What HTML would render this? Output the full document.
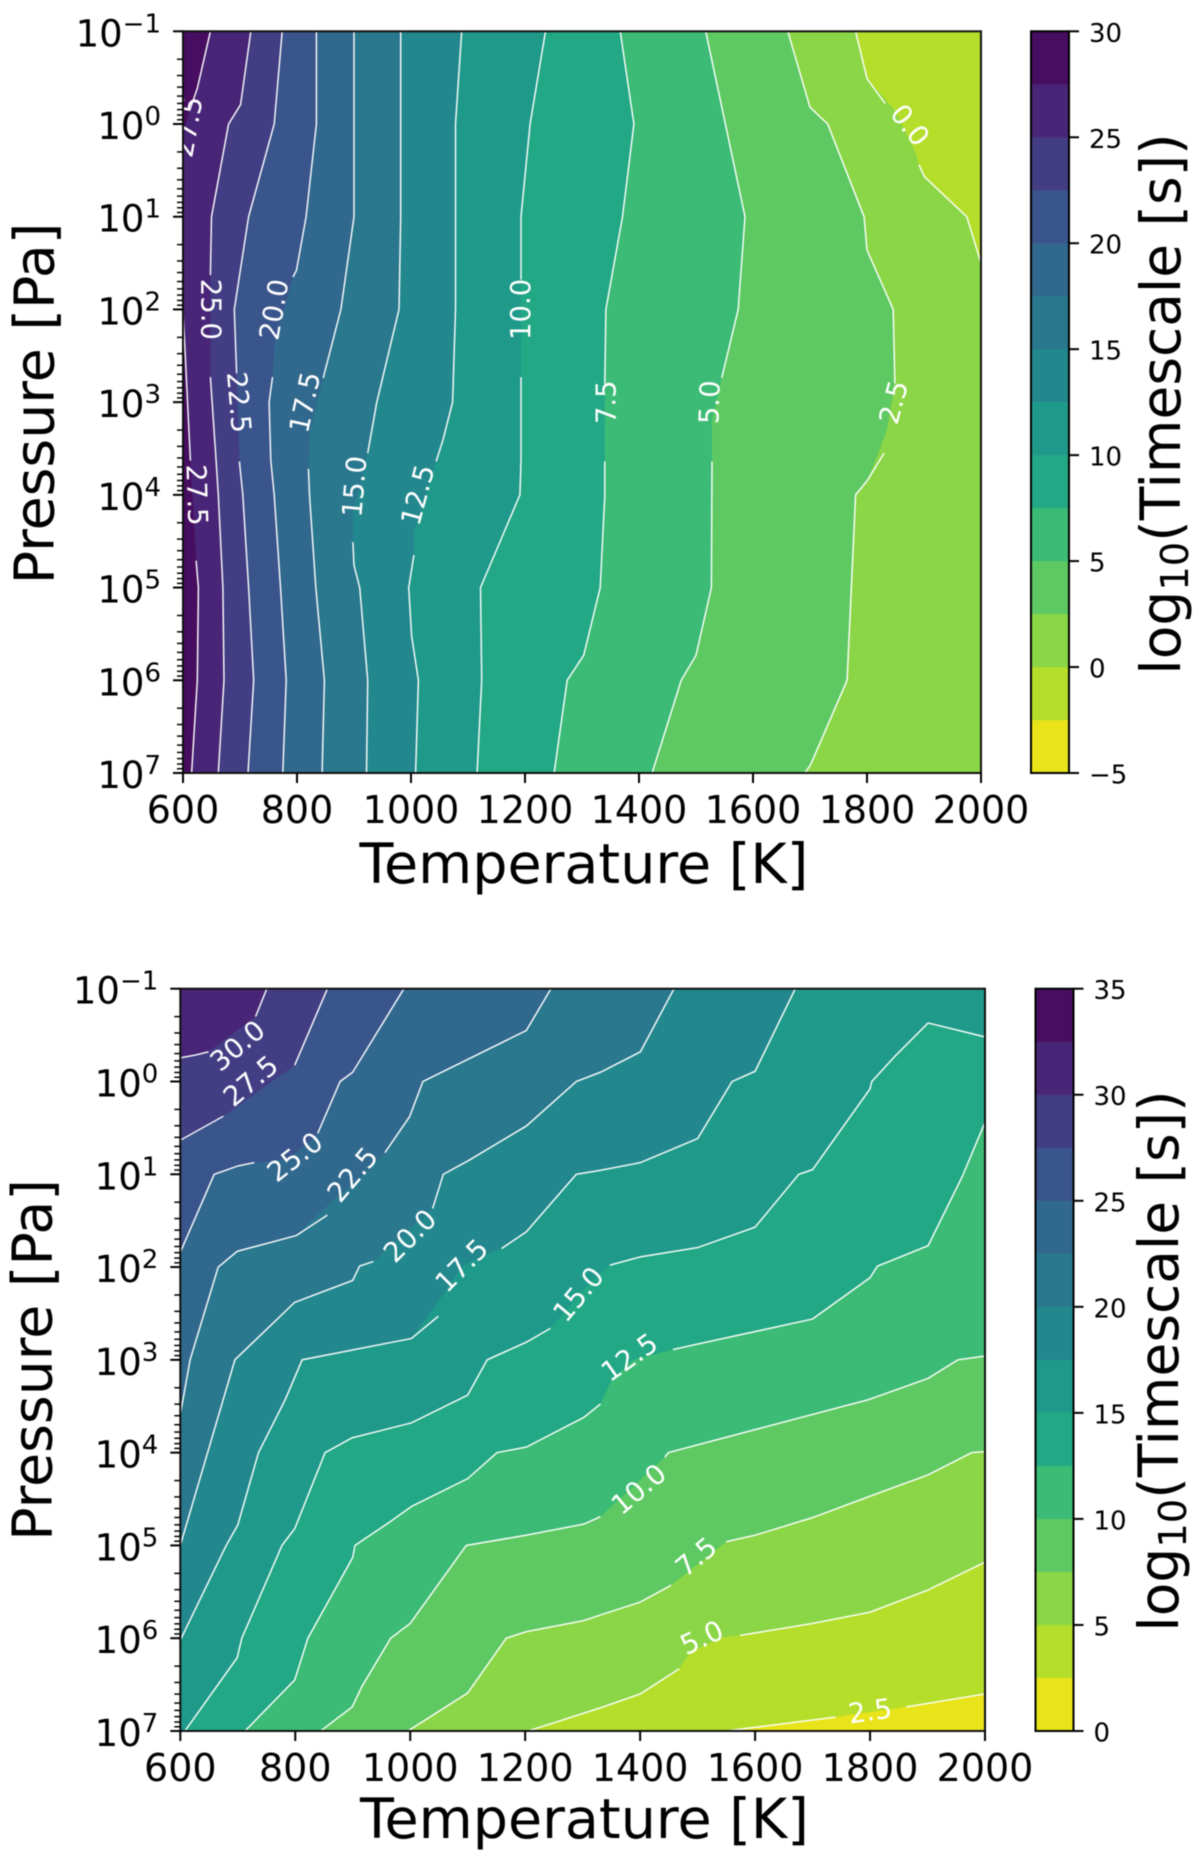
<!DOCTYPE html>
<html lang="en">
<head>
<meta charset="utf-8">
<title>Timescale contour maps</title>
<style>
html,body{margin:0;padding:0;background:#fff;}
svg{display:block;font-family:"DejaVu Sans","Liberation Sans",sans-serif;filter:blur(0.4px);}
</style>
</head>
<body>
<svg id="figure" xmlns="http://www.w3.org/2000/svg" width="1200" height="1860" viewBox="0 0 1200 1860">
  <rect x="0" y="0" width="1200" height="1860" fill="#fff"/>
  <defs>
    <clipPath id="clip-top"><rect x="183" y="31.3" width="798" height="741.7"/></clipPath>
    <clipPath id="clip-bottom"><rect x="180.3" y="988.7" width="804.7" height="742.3"/></clipPath>
  </defs>
  <g id="panel-top"></g>
  <g id="panel-bottom"></g>
  <text x="584" y="883" font-size="55.5" text-anchor="middle">Temperature [K]</text>
  <text transform="translate(53.5,403.5) rotate(-90)" font-size="55.3" text-anchor="middle">Pressure [Pa]</text>
  <text transform="translate(1180,404) rotate(-90)" font-size="55" text-anchor="middle">log<tspan font-size="38.5" dy="8">10</tspan><tspan dy="-8">(Timescale [s])</tspan></text>
  <text x="584.5" y="1838" font-size="55.5" text-anchor="middle">Temperature [K]</text>
  <text transform="translate(51.5,1360) rotate(-90)" font-size="55.3" text-anchor="middle">Pressure [Pa]</text>
  <text transform="translate(1178,1361) rotate(-90)" font-size="55" text-anchor="middle">log<tspan font-size="38.5" dy="8">10</tspan><tspan dy="-8">(Timescale [s])</tspan></text>
</svg>
<script>
// Shared axis values
const temperatureTicks = [600, 800, 1000, 1200, 1400, 1600, 1800, 2000];
const pressureExponents = [-1, 0, 1, 2, 3, 4, 5, 6, 7];
const viridisBands = ['#e8e419','#b5de2b','#8bd646','#5ec962','#3bbb75','#22a884','#1f9a8a','#23888e','#2a788e','#31688e','#3a548c','#433d84','#482576','#470d60'];

// Top panel: contour levels. Each vertex is [temperature K, log10 pressure, flag]
// flag 1 = gap in the stroke before this vertex, flag 2 = stroke only, flag 3 = gap and stroke only
const topLevels = [27.5, 25, 22.5, 20, 17.5, 15, 12.5, 10, 7.5, 5, 2.5, 0];
const topLines = [
  [[615,7],[625,6],[627,5],[623,4.71],[613,3.63,1],[600,2],[600,0.1,1],[612,-0.15,1],[625,-0.385],[648,-1]],
  [[662,7],[672,6],[670,5],[662,4],[658,3.63],[648,2.73],[648,1.63,1],[650,1],[680,0],[701,-0.21],[719,-1]],
  [[714,7],[724,6],[715,5],[705,4],[699,3.64],[694,2.69,1],[690,2],[715,1],[760,0],[774,-1]],
  [[775,7],[781,6],[771,5],[760,4],[754,3.63],[751,3],[757,2.73],[760,2.37,1],[793,1.65,1],[799,1.58],[816,1],[834,0],[834,-1]],
  [[844,7],[848,6],[833,5],[822,4],[820,3.72],[823,3.3,1],[846,2.74,1],[877,2],[900,1],[900,-1]],
  [[922,7],[924,6],[910,5],[900,4.76],[898,4.51],[898,4.2,1],[924,3.55,1],[940,3],[979,2],[982,1],[982,-1]],
  [[1008,7],[1013,6],[1001,5.52],[996,5],[1005,4.65],[1005,4.4,1],[1018,4.18,1],[1044,3.64,1],[1056,3.41],[1073,3],[1078,2],[1078,1],[1078,0],[1089,-1]],
  [[1116,7],[1124,6],[1122,5],[1191,4],[1193,3.64],[1193,2.73],[1193,1.68,1],[1193,1],[1209,0],[1236,-1]],
  [[1251,7],[1274,6],[1303,5.73],[1332,5],[1340,4],[1340,3.64],[1340,2.8,1],[1342,2],[1371,1],[1391,0],[1367,-1]],
  [[1423,7],[1474,6],[1500,5.73],[1527,5],[1528,3.64],[1528,3.2,1],[1545,2.74,1],[1574,2],[1586,1],[1517,-1]],
  [[1691,7],[1701,6.91],[1765,6],[1780,4],[1800,3.85],[1830,3.55,2],[1815,3.63,1],[1835,3.3,1],[1849,2.8,1],[1846,2],[1800,1.36],[1795,1],[1731,0],[1700,-0.18],[1661,-1]],
  [[2000,1.5],[1975,1],[1901,0.57],[1891,0.44],[1886,0.32,1],[1849,-0.15,1],[1832,-0.22,3],[1800,-0.49],[1780,-1]]
];
const topLabelTexts = ['27.5','25.0','22.5','20.0','17.5','15.0','12.5','10.0','7.5','5.0','2.5','0.0','27.5'];
const topLabelT = [608,650,699,759,813,900,1011,1191,1341,1523,1846,1876,625];
const topLabelP = [0.03,2,3,2,3,3.91,4,2,3,3,3,0.01,4];
const topLabelAngles = [-80,90,85,-80,-78,-85,-75,-90,-90,-88,-75,52,88];
const topColorbarTicks = [30,25,20,15,10,5,0,-5];

// Bottom panel
const bottomLevels = [30, 27.5, 25, 22.5, 20, 17.5, 15, 12.5, 10, 7.5, 5, 2.5];
const bottomLines = [
  [[600,-0.255],[626,-0.284],[649,-0.32],[731,-0.7,1],[750.5,-1]],
  [[600,0.633],[675,0.374],[799,-0.176,1],[856,-1]],
  [[600,1.84],[659,1],[700.6,0.91],[729,0.874],[790,0.83,1],[839,0.56,1],[878,0],[900,-0.1],[989,-1]],
  [[600,3.59],[617,3],[666,2],[699,1.83],[802,1.66],[856,1.44,2],[859,1.32,1],[919,1,1],[956,0.766,1],[999,0.38],[1022,0],[1202,-0.55],[1245,-1]],
  [[600,5],[695,3],[799,2.38],[900,2.144],[912,1.99],[936,1.94],[1039,1.37,1],[1057.5,1],[1102,0.85],[1202,0.48],[1289,0],[1331,-0.1],[1400.5,-0.32],[1459,-1]],
  [[600,6.02],[679,5.01],[700,4.78],[736,4],[782.5,3.43],[812,3],[1002,2.77],[1049,2.53,2],[1063,2.25,1],[1092,1.98,1],[1159,1.8,1],[1202,1.62],[1289,1],[1331,0.957],[1400.5,0.874],[1500,0.615],[1560,0],[1600,-0.11],[1670,-1]],
  [[608,7],[699,6.21],[707,6],[777,5],[799,4.82],[852,4],[899,3.84],[1002,3.68],[1100,3.38],[1134,3],[1202,2.81],[1244,2.66],[1307,2.21,1],[1347,1.98,1],[1400,1.89],[1500,1.79],[1600,1.57],[1676,1],[1700,0.95],[1800,0.08],[1803,0],[1843,-0.27],[1901,-0.63],[2000,-0.48]],
  [[712.5,7],[799,6.45],[822,6],[900,5.13],[904,5],[966,4.74],[1002,4.58],[1100,4.28],[1151,4],[1202,3.94],[1302,3.62],[1331,3.475],[1350,3.22,1],[1388,3,1],[1457,2.89,1],[1500,2.83],[1700,2.56],[1800,2.115],[1813,1.99],[1901,1.77],[1960,1.03],[2000,0.44]],
  [[844,7],[899,6.74],[916,6.52],[966,6],[1000,5.84],[1097.5,5],[1202,4.89],[1302,4.77],[1331,4.69],[1443,4.05,1],[1449,4],[1797,3.43],[1901,3.2],[1953,3],[2000,2.96]],
  [[996,7],[1100,6.59],[1167,6],[1202,5.93],[1302,5.81],[1331,5.75],[1400.5,5.61],[1454,5.43],[1550,4.96,1],[1600,4.89],[1700,4.7],[1800,4.47],[1901,4.24],[1977,4],[2000,3.99]],
  [[1205,7],[1331,6.75],[1400.5,6.6],[1468,6.33],[1487,6.15,1],[1544,5.99,1],[1574,5.97,1],[1700,5.84],[1800,5.72],[1901,5.48],[2000,5.18]],
  [[1550,7],[1740,6.85],[1863,6.74,1],[2000,6.6]]
];
const bottomLabelTexts = ['30.0','27.5','25.0','22.5','20.0','17.5','15.0','12.5','10.0','7.5','5.0','2.5'];
const bottomLabelT = [699,722,799,899,999,1089,1292,1381,1397,1497,1507,1800];
const bottomLabelP = [-0.39,-0.01,0.81,1,1.66,1.98,2.29,2.97,4.39,5.12,5.99,6.78];
const bottomLabelAngles = [-40,-40,-38,-50,-45,-45,-50,-35,-40,-40,-25,-8];
const bottomColorbarTicks = [35,30,25,20,15,10,5,0];

const SVGNS = 'http://www.w3.org/2000/svg';
function make(tag, parent, attrs) {
  const el = document.createElementNS(SVGNS, tag);
  for (const k in attrs) el.setAttribute(k, attrs[k]);
  parent.appendChild(el);
  return el;
}

function drawPanel(parent, cfg) {
  const xScale = t => cfg.left + (t - 600) / 1400 * (cfg.right - cfg.left);
  const yScale = p => cfg.top + (p + 1) / 8 * (cfg.bottom - cfg.top);
  const cbY = v => cfg.bottom - (v - cfg.cbMin) / (cfg.cbMax - cfg.cbMin) * (cfg.bottom - cfg.top);

  function edgePos(pt) {
    const t = pt[0], p = pt[1];
    if (p <= -1) return (t - 600) / 1400;
    if (t >= 2000) return 1 + (p + 1) / 8;
    if (p >= 7) return 2 + (2000 - t) / 1400;
    return 3 + (7 - p) / 8;
  }
  const corners = [[2000,-1],[2000,7],[600,7],[600,-1]];

  const plot = make('g', parent, {'clip-path': 'url(#' + cfg.clip + ')'});
  
  

  const base = make('rect', plot, {x: cfg.left, y: cfg.top, width: cfg.right - cfg.left, height: cfg.bottom - cfg.top, fill: viridisBands[Math.round((cfg.levels[0] - cfg.cbMin) / cfg.cbStep)]});
  
  

  // Filled bands: everything on the low-value side of each contour
  cfg.levels.forEach((level, i) => {
    const line = cfg.lines[i];
    const pts = line.filter(q => !(q[2] & 2)).map(q => [q[0], q[1]]);
    const startS = edgePos(line[0]);
    const endS = edgePos(line[line.length - 1]);
    const stop = startS > endS ? startS : startS + 4;
    for (let c = 1; c <= 8; c++) {
      if (c > endS && c < stop) pts.push(corners[(c - 1) % 4]);
    }
    const band = make('polygon', plot, {
      points: pts.map(q => xScale(q[0]).toFixed(1) + ',' + yScale(q[1]).toFixed(1)).join(' '),
      fill: viridisBands[Math.round((level - cfg.cbMin) / cfg.cbStep) - 1]
    });
    
    
  });

  // Contour lines
  cfg.levels.forEach((level, i) => {
    let d = '';
    cfg.lines[i].forEach((q, j) => {
      d += (j === 0 || (q[2] & 1) ? 'M' : 'L') + xScale(q[0]).toFixed(1) + ' ' + yScale(q[1]).toFixed(1);
    });
    const path = make('path', plot, {d: d, fill: 'none', stroke: '#fff', 'stroke-width': 1.4, 'stroke-linejoin': 'miter'});
    
    
  });

  // Contour labels
  cfg.labelTexts.forEach((txt, i) => {
    const cx = xScale(cfg.labelT[i]);
    const cy = yScale(cfg.labelP[i]);
    const label = make('text', plot, {
      x: 0, y: 0, dy: '0.36em', fill: '#fff', 'font-size': 27.5, 'text-anchor': 'middle',
      transform: 'translate(' + cx.toFixed(1) + ',' + cy.toFixed(1) + ') rotate(' + cfg.labelAngles[i] + ')'
    });
    label.textContent = txt;
    
    
  });

  // Spines
  const frame = make('rect', parent, {x: cfg.left, y: cfg.top, width: cfg.right - cfg.left, height: cfg.bottom - cfg.top, fill: 'none', stroke: '#111', 'stroke-width': 2});
  
  

  // X ticks
  temperatureTicks.forEach(t => {
    const px = xScale(t);
    const tick = make('line', parent, {x1: px, x2: px, y1: cfg.bottom, y2: cfg.bottom + 10, stroke: '#000', 'stroke-width': 2});
    
    
    const lab = make('text', parent, {x: px, y: cfg.bottom + 50, 'font-size': 38, 'text-anchor': 'middle'});
    lab.textContent = String(t);
    
    
  });

  // Y ticks, major and minor
  pressureExponents.forEach(e => {
    const py = yScale(e);
    const tick = make('line', parent, {x1: cfg.left - 10, x2: cfg.left, y1: py, y2: py, stroke: '#000', 'stroke-width': 2});
    
    
    const lab = make('text', parent, {x: cfg.left - 22, y: py + 15, 'font-size': 37, 'text-anchor': 'end'});
    
    
    lab.appendChild(document.createTextNode('10'));
    const sup = make('tspan', lab, {'font-size': 26, dy: -14});
    sup.textContent = String(e).replace('-', '\u2212');
    if (e < 7) {
      for (let m = 2; m < 10; m++) {
        const my = yScale(e + Math.log10(m));
        const minor = make('line', parent, {x1: cfg.left - 6, x2: cfg.left, y1: my, y2: my, stroke: '#000', 'stroke-width': 1.5});
        
        
      }
    }
  });

  // Colorbar
  viridisBands.forEach((color, i) => {
    const low = cfg.cbMin + i * cfg.cbStep;
    const high = low + cfg.cbStep;
    const seg = make('rect', parent, {x: cfg.cbLeft, y: cbY(high), width: cfg.cbRight - cfg.cbLeft, height: cbY(low) - cbY(high), fill: color, stroke: color, 'stroke-width': 0.3});
    
    
  });
  const cbFrame = make('rect', parent, {x: cfg.cbLeft, y: cfg.top, width: cfg.cbRight - cfg.cbLeft, height: cfg.bottom - cfg.top, fill: 'none', stroke: '#000', 'stroke-width': 2});
  
  
  cfg.cbTicks.forEach(v => {
    const py = cbY(v);
    const tick = make('line', parent, {x1: cfg.cbRight, x2: cfg.cbRight + 10, y1: py, y2: py, stroke: '#000', 'stroke-width': 2});
    
    
    const lab = make('text', parent, {x: cfg.cbRight + 20, y: py + 10.5, 'font-size': 26});
    lab.textContent = String(v).replace('-', '\u2212');
    
    
  });
}

drawPanel(document.getElementById('panel-top'), {
  left: 183, right: 981, top: 31.3, bottom: 773, clip: 'clip-top',
  levels: topLevels, lines: topLines,
  labelTexts: topLabelTexts, labelT: topLabelT, labelP: topLabelP, labelAngles: topLabelAngles,
  cbMin: -5, cbMax: 30, cbStep: 2.5, cbLeft: 1031, cbRight: 1069, cbTicks: topColorbarTicks
});
drawPanel(document.getElementById('panel-bottom'), {
  left: 180.3, right: 985, top: 988.7, bottom: 1731, clip: 'clip-bottom',
  levels: bottomLevels, lines: bottomLines,
  labelTexts: bottomLabelTexts, labelT: bottomLabelT, labelP: bottomLabelP, labelAngles: bottomLabelAngles,
  cbMin: 0, cbMax: 35, cbStep: 2.5, cbLeft: 1035.5, cbRight: 1073.5, cbTicks: bottomColorbarTicks
});
</script>
</body>
</html>
